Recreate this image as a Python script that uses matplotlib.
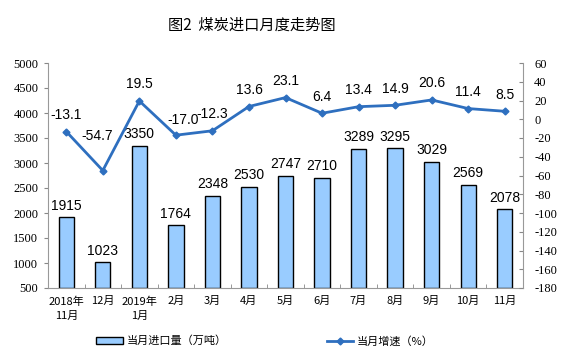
import matplotlib
matplotlib.use('Agg')
import matplotlib.pyplot as plt
import numpy as np

plt.rcParams['font.serif'] = ['Liberation Serif', 'Times New Roman', 'DejaVu Serif']
plt.rcParams['font.family'] = ['serif']

months = ['2018年\n11月', '12月', '2019年\n1月', '2月', '3月', '4月', '5月',
          '6月', '7月', '8月', '9月', '10月', '11月']
imports = [1915, 1023, 3350, 1764, 2348, 2530, 2747, 2710, 3289, 3295, 3029, 2569, 2078]
growth = [-13.1, -54.7, 19.5, -17.0, -12.3, 13.6, 23.1, 6.4, 13.4, 14.9, 20.6, 11.4, 8.5]
left_ticks = list(range(500, 5001, 500))
right_ticks = list(range(-180, 61, 20))

bar_color = '#99CCFF'
line_color = '#2E6FBF'
cjk = ['Noto Sans CJK SC', 'DejaVu Sans']
num = ['Liberation Sans', 'DejaVu Sans']
base = 500

fig = plt.figure(figsize=(5.61, 3.57), dpi=100)
ax = fig.add_axes([48/561, 1-288/357, (523-48)/561, (288-63)/357])
x = np.arange(len(months))

# bars, left axis (axis starts at 500)
heights = [v - base for v in imports]
ax.bar(x, heights, width=0.42, bottom=base, color=bar_color, edgecolor='black', linewidth=1.0,
       label='当月进口量（万吨）', zorder=2)
ax.set_ylim(500, 5000)
ax.set_yticks(left_ticks)
ax.set_yticklabels([str(t) for t in left_ticks], fontfamily='serif', fontsize=9)
ax.set_xlim(-0.5, len(months)-0.5)
ax.set_xticks(x)
ax.set_xticklabels(months, fontsize=8, family=cjk, linespacing=1.5)
ax.set_xticks(np.arange(-0.5, len(months), 1), minor=True)
ax.tick_params(axis='x', which='major', length=0, pad=6)
ax.tick_params(axis='x', which='minor', length=3, direction='in', color='#888888')
ax.tick_params(axis='y', length=3, direction='out', color='#888888', pad=4)
for i, v in enumerate(imports):
    ax.annotate(str(v), (x[i], v), xytext=(0, 3), textcoords='offset points',
                ha='center', va='bottom', fontsize=10, family=num)

ax.spines['top'].set_visible(False)
ax.spines['right'].set_visible(False)
ax.spines['left'].set_color('#999999')
ax.spines['bottom'].set_color('#999999')

# line, right axis
ax2 = ax.twinx()
ax2.plot(x, growth, color=line_color, linewidth=2, marker='D', markersize=3.5,
         label='当月增速（%）', zorder=3)
ax2.set_ylim(-180, 60)
ax2.set_yticks(right_ticks)
ax2.set_yticklabels([str(t) for t in right_ticks], fontfamily='serif', fontsize=9)
ax2.tick_params(axis='y', length=3, direction='in', color='#888888', pad=8)
for s in ['top', 'left', 'bottom']:
    ax2.spines[s].set_visible(False)
ax2.spines['right'].set_color('#999999')

shift = {1: (-4, 20), 3: (5, 6)}
for i, v in enumerate(growth):
    dx, dy = shift.get(i, (0, 7))
    ax2.annotate('%.1f' % v, (x[i], v), xytext=(dx, dy), textcoords='offset points',
                 ha='center', va='bottom', fontsize=10, family=num)

fig.text(252/561, 1-25/357, '图2  煤炭进口月度走势图', ha='center', va='center',
         fontsize=11, family=cjk)

h1, l1 = ax.get_legend_handles_labels()
h2, l2 = ax2.get_legend_handles_labels()
fig.legend(h1 + h2, l1 + l2, loc='center', bbox_to_anchor=(265/561, 1-341/357),
           ncol=2, frameon=False, prop={'family': cjk, 'size': 8},
           handlelength=2.4, handleheight=0.6, columnspacing=9, handletextpad=0.3)

fig.savefig('out.png', dpi=100)
